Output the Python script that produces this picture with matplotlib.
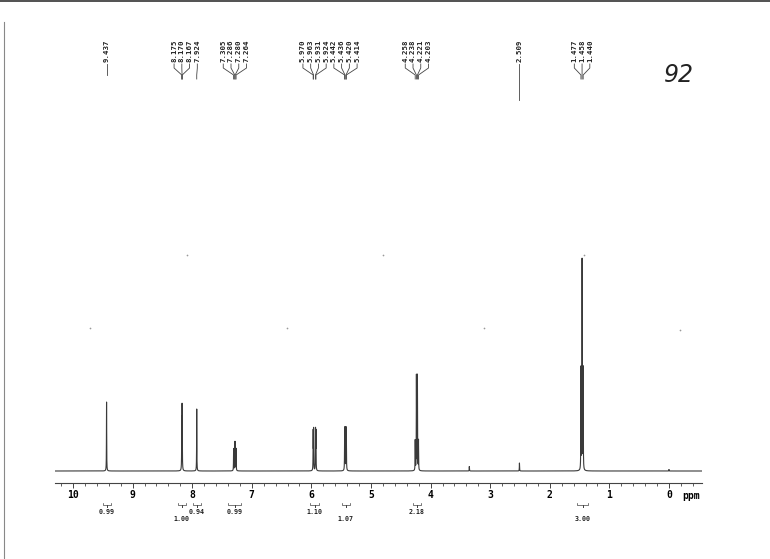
import numpy as np
import matplotlib
matplotlib.use('Agg')
import matplotlib.pyplot as plt
from matplotlib.ticker import MultipleLocator
from matplotlib.lines import Line2D

# 峰位置(ppm)与高度(基线以上)
peak_ppm = [9.437, 8.175, 8.170, 8.167, 7.924,
            7.305, 7.286, 7.280, 7.264,
            5.970, 5.963, 5.931, 5.924,
            5.442, 5.436, 5.420, 5.414,
            4.258, 4.238, 4.221, 4.203,
            3.350, 2.509,
            1.477, 1.458, 1.440, 0.000]
peak_height = [69, 45, 48, 35, 62,
               22, 26, 26, 22,
               38, 40, 40, 38,
               37, 39, 39, 37,
               30, 95, 95, 30,
               4.5, 8,
               102, 210, 102, 1.5]

# 峰标注分组
label_groups = [["9.437"],
                ["8.175", "8.170", "8.167", "7.924"],
                ["7.305", "7.286", "7.280", "7.264"],
                ["5.970", "5.963", "5.931", "5.924"],
                ["5.442", "5.436", "5.420", "5.414"],
                ["4.258", "4.238", "4.221", "4.203"],
                ["2.509"],
                ["1.477", "1.458", "1.440"]]
label_bottom = [396, 392, 392, 392, 392, 392, 371, 392]

# 积分
integ_values = ["0.99", "1.00", "0.94", "0.99", "1.10", "1.07", "2.18", "3.00"]
integ_from = [9.50, 8.24, 7.99, 7.40, 6.02, 5.49, 4.30, 1.54]
integ_to = [9.37, 8.11, 7.86, 7.18, 5.87, 5.36, 4.16, 1.36]
integ_row = [0, 1, 0, 0, 0, 1, 0, 1]

ticks = list(range(0, 11))
tick_labels = [str(t) for t in ticks]

# 扫描件上的小点
dot_ppm = [9.715, 8.087, 6.409, 4.799, 3.104, 1.426, -0.185]
dot_h = [143, 216, 143, 216, 143, 216, 141]

fig = plt.figure(figsize=(7.7, 5.59), dpi=100)
ax = fig.add_axes([55 / 770, 0, 647 / 770, 1])
ax.set_xlim(10.302, -0.554)
ax.set_ylim(-88, 471)

# 谱线 (洛伦兹线型)
x = np.linspace(10.302, -0.554, 60000)
w = 0.0022
y = np.zeros_like(x)
for p, h in zip(peak_ppm, peak_height):
    y += h * w**2 / ((x - p)**2 + w**2)
ax.plot(x, y, color='#3a3a3a', lw=0.8)

# 坐标轴
for s in ['top', 'left', 'right']:
    ax.spines[s].set_visible(False)
ax.spines['bottom'].set_position(('data', -12))
ax.spines['bottom'].set_color('#444444')
ax.spines['bottom'].set_linewidth(0.8)
ax.set_yticks([])
ax.set_xticks(ticks)
ax.set_xticklabels(tick_labels, family='DejaVu Sans Mono', weight='bold', fontsize=7)
ax.xaxis.set_minor_locator(MultipleLocator(0.2))
ax.tick_params(axis='x', which='major', direction='out', length=3.5, width=0.7,
               color='#444444', pad=1.5)
ax.tick_params(axis='x', which='minor', direction='out', length=2, width=0.6,
               color='#444444')
ax.text(-0.369, -25, 'ppm', ha='center', va='center', family='DejaVu Sans Mono',
        weight='bold', fontsize=7)

# 峰标注
sp = 0.13
for gi, g in enumerate(label_groups):
    n = len(g)
    c = np.mean([float(s) for s in g])
    for i, s in enumerate(g):
        lx = c + ((n - 1) / 2 - i) * sp
        ax.text(lx, 409, s, rotation=90, ha='center', va='bottom', fontsize=5.3,
                family='DejaVu Sans Mono', weight='bold', color='#222222')
        ax.plot([lx, lx, float(s), float(s)], [407, 403, 396, label_bottom[gi]],
                color='#444444', lw=0.6)

# 积分
for v, a, b, r in zip(integ_values, integ_from, integ_to, integ_row):
    m = (a + b) / 2
    ax.plot([a, a, m, m, m, b, b], [-32, -34, -34, -36, -34, -34, -32],
            color='#444444', lw=0.5)
    ax.text(m, -41 - 7 * r, v, ha='center', va='center', fontsize=4.8,
            family='DejaVu Sans Mono', weight='bold', color='#222222')

ax.scatter(dot_ppm, dot_h, s=1.5, color='#999999', lw=0)

ax.text(-0.17, 396, '92', ha='center', va='center', fontsize=17, color='#222222',
        style='italic')

# 扫描边缘
fig.add_artist(Line2D([0, 1], [0.998, 0.998], color='#333333', lw=1.2))
fig.add_artist(Line2D([3.5 / 770, 3.5 / 770], [0, 1 - 22 / 559], color='#888888', lw=0.8))

fig.savefig('out.png', dpi=100)
